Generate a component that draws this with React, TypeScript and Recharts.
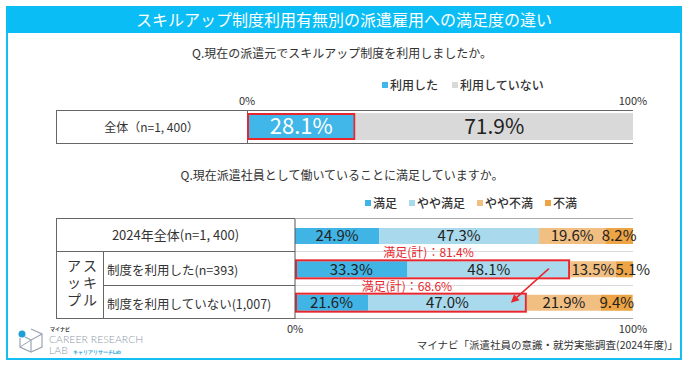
import React from "react";
import {
  BarChart,
  Bar,
  XAxis,
  YAxis,
  Legend,
  LabelList,
  ReferenceLine,
} from "recharts";

const FONT = "'Noto Sans CJK JP', 'Noto Sans', sans-serif";
const RED = "#E8262D";

// Q1: スキルアップ制度の利用
const usageNames = ["利用した", "利用していない"];
const usageColors = ["#41B6E8", "#D9D9D9"];
const usageRows = ["全体（n=1, 400）"];
const usedValues = [28.1];
const notUsedValues = [71.9];

// Q2: 派遣雇用への満足度
const satisfactionNames = ["満足", "やや満足", "やや不満", "不満"];
const satisfactionColors = ["#41B4E6", "#A8D9EC", "#F1BF82", "#EDA445"];
const satisfactionRows = [
  "2024年全体(n=1, 400)",
  "制度を利用した(n=393)",
  "制度を利用していない(1,007)",
];
const satisfiedValues = [24.9, 33.3, 21.6];
const somewhatSatisfiedValues = [47.3, 48.1, 47.0];
const somewhatDissatisfiedValues = [19.6, 13.5, 21.9];
const dissatisfiedValues = [8.2, 5.1, 9.4];
const satisfiedTotals = [null, 81.4, 68.6];
const highlightRows = [false, true, true];
const arrowRows = [false, false, true];

const percentTicks = [0, 100];

const usageData = usageRows.map((name, i) => ({
  name,
  used: usedValues[i],
  notUsed: notUsedValues[i],
}));

const satisfactionData = satisfactionRows.map((name, i) => ({
  name,
  satisfied: satisfiedValues[i],
  somewhat: somewhatSatisfiedValues[i],
  somewhatDis: somewhatDissatisfiedValues[i],
  dis: dissatisfiedValues[i],
  total: satisfiedTotals[i],
  highlight: highlightRows[i],
  arrow: arrowRows[i],
}));

const pct = (v: any) => `${Number(v).toFixed(1)}%`;

function UsedShape(props: any) {
  const { x, y, width, height, fill } = props;
  return (
    <g>
      <rect x={x} y={y} width={width} height={height} fill={fill} />
      <rect
        x={x + 1}
        y={y + 1}
        width={width - 2}
        height={height - 2}
        fill="none"
        stroke={RED}
        strokeWidth={2}
      />
    </g>
  );
}

function SomewhatShape(props: any) {
  const { x, y, width, height, fill, payload } = props;
  if (!payload.highlight) {
    return <rect x={x} y={y} width={width} height={height} fill={fill} />;
  }
  const unit = width / payload.somewhat;
  const left = x - payload.satisfied * unit;
  const right = x + width;
  let arrow = null;
  if (payload.arrow) {
    const ex = right - 16;
    const ey = y + height / 2;
    const sx = right + 22;
    const sy = y - 26;
    const ang = Math.atan2(ey - sy, ex - sx);
    const hl = 8;
    const hw = 4;
    const bx = ex - hl * Math.cos(ang);
    const by = ey - hl * Math.sin(ang);
    const px = -Math.sin(ang) * hw;
    const py = Math.cos(ang) * hw;
    arrow = (
      <g>
        <line x1={sx} y1={sy} x2={bx} y2={by} stroke={RED} strokeWidth={1.5} />
        <polygon
          points={`${ex},${ey} ${bx + px},${by + py} ${bx - px},${by - py}`}
          fill={RED}
        />
      </g>
    );
  }
  return (
    <g>
      <rect x={x} y={y} width={width} height={height} fill={fill} />
      <rect
        x={left + 1}
        y={y - 1}
        width={right - left - 2}
        height={height + 2}
        fill="none"
        stroke={RED}
        strokeWidth={2}
      />
      <text
        x={(left + right) / 2 - 4}
        y={y - 4}
        textAnchor="middle"
        fontSize={12}
        fill={RED}
      >
        {`満足(計)：${payload.total.toFixed(1)}%`}
      </text>
      {arrow}
    </g>
  );
}

// 不満 label: pushed right when the segment is too narrow for the text
function DisLabel(props: any) {
  const { x, y, width, height, value } = props;
  const cx = width < 25 ? x + 17 : x + width / 2;
  return (
    <text
      x={cx}
      y={y + height / 2}
      dy="0.36em"
      textAnchor="middle"
      fontSize={15}
      fill="#222"
    >
      {pct(value)}
    </text>
  );
}

function LegendRow({ payload, gap }: any) {
  return (
    <div style={{ display: "flex", gap, fontSize: 12, color: "#333", fontWeight: 500 }}>
      {(payload || []).map((p: any) => (
        <span key={p.value} style={{ display: "flex", alignItems: "center" }}>
          <span
            style={{
              display: "inline-block",
              width: 6,
              height: 6,
              background: p.color,
              marginRight: 2,
            }}
          />
          {p.value}
        </span>
      ))}
    </div>
  );
}

const hLine = (top: number, left: number, width: number, color: string) => (
  <div
    style={{ position: "absolute", top, left, width, height: 1, background: color }}
  />
);
const vLine = (left: number, top: number, height: number, color: string) => (
  <div
    style={{ position: "absolute", top, left, width: 1, height, background: color }}
  />
);

function Logo() {
  const latin = "'Lato', 'Noto Sans', sans-serif";
  return (
    <div style={{ position: "absolute", left: 17, top: 326, width: 130, height: 30 }}>
      <svg width={30} height={28} style={{ position: "absolute", left: 0, top: 0 }}>
        <path
          d="M14 3 L25 8 L25 21 L14 26 L3 21 L3 12"
          fill="none"
          stroke="#9AA5B1"
          strokeWidth={1.2}
        />
        <path d="M14 26 L14 14 L25 8 M14 14 L8 11" fill="none" stroke="#9AA5B1" strokeWidth={1.2} />
        <path d="M3 21 L14 14" fill="none" stroke="#9AA5B1" strokeWidth={1} />
        <circle cx={5} cy={8} r={3.5} fill="#1E9FD8" />
      </svg>
      <div
        style={{
          position: "absolute",
          left: 33,
          top: 0,
          fontSize: 5,
          lineHeight: "6px",
          fontWeight: 700,
          color: "#333",
        }}
      >
        マイナビ
      </div>
      <div
        style={{
          position: "absolute",
          left: 32,
          top: 8,
          fontSize: 10.5,
          lineHeight: "11px",
          color: "#8E9AA8",
          fontFamily: latin,
          fontWeight: 300,
          whiteSpace: "nowrap",
        }}
      >
        CAREER RESEARCH
      </div>
      <div
        style={{
          position: "absolute",
          left: 32,
          top: 19,
          fontSize: 10.5,
          lineHeight: "11px",
          color: "#8E9AA8",
          fontFamily: latin,
          fontWeight: 300,
          whiteSpace: "nowrap",
        }}
      >
        LAB
        <span style={{ fontSize: 5, color: "#1E9FD8", fontWeight: 700, marginLeft: 5 }}>
          キャリアリサーチLab
        </span>
      </div>
    </div>
  );
}

export default function App() {
  const dark = "#666";
  const light = "#DADADA";
  return (
    <div
      style={{
        position: "absolute",
        left: 0,
        top: 0,
        width: 700,
        height: 370,
        background: "#fff",
        fontFamily: FONT,
        color: "#333",
        overflow: "hidden",
      }}
    >
      {/* frame + title */}
      <div
        style={{
          position: "absolute",
          left: 6,
          top: 6,
          width: 676,
          height: 354,
          boxSizing: "border-box",
          border: "2px solid #14BDF2",
        }}
      />
      <div
        style={{
          position: "absolute",
          left: 6,
          top: 6,
          width: 676,
          height: 27,
          background: "#0ABDF5",
          color: "#fff",
          fontSize: 16,
          textAlign: "center",
          lineHeight: "27px",
        }}
      >
        スキルアップ制度利用有無別の派遣雇用への満足度の違い
      </div>

      <div style={{ position: "absolute", top: 44, left: 0, width: 684, textAlign: "center", fontSize: 12 }}>
        Q.現在の派遣元でスキルアップ制度を利用しましたか。
      </div>
      <div style={{ position: "absolute", top: 166, left: 0, width: 684, textAlign: "center", fontSize: 12 }}>
        Q.現在派遣社員として働いていることに満足していますか。
      </div>

      {/* top table frame */}
      {hLine(110, 56, 577, dark)}
      {hLine(143, 56, 577, dark)}
      {vLine(56, 110, 34, dark)}
      {vLine(247, 110, 34, dark)}
      <div
        style={{
          position: "absolute",
          left: 56,
          top: 110,
          width: 191,
          height: 33,
          lineHeight: "33px",
          textAlign: "center",
          fontSize: 12,
        }}
      >
        {usageRows[0]}
      </div>

      {/* bottom table frame */}
      {hLine(218, 56, 239, dark)}
      {hLine(218, 295, 338, "#A8A8A8")}
      {hLine(251, 56, 239, dark)}
      {hLine(251, 295, 338, light)}
      {hLine(285, 103, 192, dark)}
      {hLine(285, 295, 338, light)}
      {hLine(318, 56, 239, dark)}
      {hLine(318, 295, 338, "#A8A8A8")}
      {vLine(56, 218, 101, dark)}
      {vLine(103, 251, 68, dark)}
      <div
        style={{
          position: "absolute",
          left: 56,
          top: 218,
          width: 239,
          height: 33,
          lineHeight: "33px",
          textAlign: "center",
          fontSize: 13,
        }}
      >
        {satisfactionRows[0]}
      </div>
      <div style={{ position: "absolute", left: 107, top: 260, fontSize: 12.5 }}>
        {satisfactionRows[1]}
      </div>
      <div style={{ position: "absolute", left: 107, top: 294, fontSize: 12.5 }}>
        {satisfactionRows[2]}
      </div>
      <div
        style={{
          position: "absolute",
          left: 67,
          top: 257,
          fontSize: 14,
          lineHeight: "17px",
          letterSpacing: 2,
          whiteSpace: "pre",
        }}
      >
        {"アス\nッキ\nプル"}
      </div>

      {/* Q1 chart */}
      <div style={{ position: "absolute", left: 0, top: 0 }}>
        <BarChart
          width={700}
          height={150}
          data={usageData}
          layout="vertical"
          margin={{ top: 90, right: 67, bottom: 7, left: 247 }}
        >
          <XAxis
            type="number"
            orientation="top"
            domain={[0, 100]}
            ticks={percentTicks}
            tickFormatter={(v) => `${v}%`}
            axisLine={false}
            tickLine={false}
            tickSize={0}
            tickMargin={5}
            height={20}
            tick={{ fontSize: 11, fill: "#333" }}
            interval={0}
          />
          <YAxis type="category" dataKey="name" hide />
          <Legend
            layout="horizontal"
            verticalAlign="middle"
            align="center"
            itemSorter={(item: any) => usageNames.indexOf(item.value)}
            wrapperStyle={{ top: 76, left: 382, width: "auto" }}
            content={(p: any) => <LegendRow payload={p.payload} gap={14} />}
          />
          <Bar
            dataKey="used"
            name={usageNames[0]}
            stackId="a"
            fill={usageColors[0]}
            barSize={27}
            shape={UsedShape}
            isAnimationActive={false}
          >
            <LabelList dataKey="used" position="center" formatter={pct} fill="#fff" fontSize={22} />
          </Bar>
          <Bar
            dataKey="notUsed"
            name={usageNames[1]}
            stackId="a"
            fill={usageColors[1]}
            barSize={27}
            isAnimationActive={false}
          >
            <LabelList dataKey="notUsed" position="center" formatter={pct} fill="#222" fontSize={21} />
          </Bar>
        </BarChart>
      </div>

      {/* Q2 chart */}
      <div style={{ position: "absolute", left: 0, top: 0 }}>
        <BarChart
          width={700}
          height={370}
          data={satisfactionData}
          layout="vertical"
          margin={{ top: 219, right: 67, bottom: 31, left: 295 }}
        >
          <XAxis
            type="number"
            domain={[0, 100]}
            ticks={percentTicks}
            tickFormatter={(v) => `${v}%`}
            axisLine={false}
            tickLine={false}
            tickSize={0}
            tickMargin={6}
            height={20}
            tick={{ fontSize: 11, fill: "#333" }}
            interval={0}
          />
          <YAxis type="category" dataKey="name" hide />
          <ReferenceLine x={0} stroke="#555" />
          <Legend
            layout="horizontal"
            verticalAlign="middle"
            align="center"
            itemSorter={(item: any) => satisfactionNames.indexOf(item.value)}
            wrapperStyle={{ top: 194, left: 365, width: "auto" }}
            content={(p: any) => <LegendRow payload={p.payload} gap={12} />}
          />
          <Bar
            dataKey="satisfied"
            name={satisfactionNames[0]}
            stackId="s"
            fill={satisfactionColors[0]}
            barSize={16}
            isAnimationActive={false}
          >
            <LabelList dataKey="satisfied" position="center" formatter={pct} fill="#222" fontSize={15} />
          </Bar>
          <Bar
            dataKey="somewhat"
            name={satisfactionNames[1]}
            stackId="s"
            fill={satisfactionColors[1]}
            barSize={16}
            shape={SomewhatShape}
            isAnimationActive={false}
          >
            <LabelList dataKey="somewhat" position="center" formatter={pct} fill="#222" fontSize={15} />
          </Bar>
          <Bar
            dataKey="somewhatDis"
            name={satisfactionNames[2]}
            stackId="s"
            fill={satisfactionColors[2]}
            barSize={16}
            isAnimationActive={false}
          >
            <LabelList dataKey="somewhatDis" position="center" formatter={pct} fill="#222" fontSize={15} />
          </Bar>
          <Bar
            dataKey="dis"
            name={satisfactionNames[3]}
            stackId="s"
            fill={satisfactionColors[3]}
            barSize={16}
            isAnimationActive={false}
          >
            <LabelList dataKey="dis" content={DisLabel} />
          </Bar>
        </BarChart>
      </div>

      <Logo />
      <div
        style={{
          position: "absolute",
          right: 22,
          top: 337,
          fontSize: 10.5,
          whiteSpace: "nowrap",
        }}
      >
        マイナビ「派遣社員の意識・就労実態調査(2024年度)」
      </div>
    </div>
  );
}
